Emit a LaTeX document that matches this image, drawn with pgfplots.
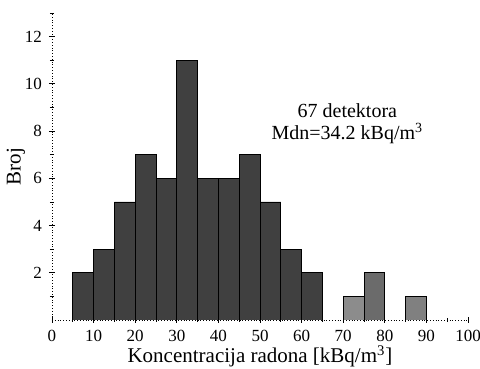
\documentclass[border=0pt]{standalone}
\usepackage{pgfplots}
\pgfplotsset{compat=1.18}
\usepackage{fontspec}
\setmainfont{Liberation Serif}
\begin{document}
\begin{tikzpicture}
\begin{axis}[
  at={(0,0)}, anchor=south west,
  scale only axis, width=208pt, height=153.5pt,
  xmin=0, xmax=100, ymin=0, ymax=13,
  axis x line=bottom, axis y line=left,
  axis line style={densely dotted, -, thin},
  xtick={0,10,...,100}, minor xtick={5,15,...,95},
  ytick={2,4,...,12}, minor ytick={1,3,...,13},
  tick align=center, major tick length=3pt, minor tick length=2pt,
  tick style={black, thin},
  /pgf/number format/assume math mode=true,
  tick label style={font=\fontsize{8.5}{10}\selectfont},
  xlabel={Koncentracija radona [kBq/m\textsuperscript{3}]},
  ylabel={Broj},
  label style={font=\fontsize{10.5}{12}\selectfont},
  xlabel style={yshift=5pt},
  ylabel style={yshift=-7pt},
]
\addplot[ybar interval, fill=black!75, draw=black, thin] coordinates {
(5,2) (10,3) (15,5) (20,7) (25,6) (30,11) (35,6) (40,6) (45,7) (50,5) (55,3) (60,2) (65,2)
};
\addplot[ybar interval, fill=black!45, draw=black, thin] coordinates {
(70,1) (75,1)
};
\addplot[ybar interval, fill=black!58, draw=black, thin] coordinates {
(75,2) (80,2)
};
\addplot[ybar interval, fill=black!50, draw=black, thin] coordinates {
(85,1) (90,1)
};
\node[align=center, font=\fontsize{10}{11}\selectfont] at (axis cs:71,8.3) {67 detektora\\Mdn=34.2 kBq/m\textsuperscript{3}};
\end{axis}
\pgfresetboundingbox
\useasboundingbox (-26pt,-24pt) rectangle (214pt,160pt);
\end{tikzpicture}
\end{document}
